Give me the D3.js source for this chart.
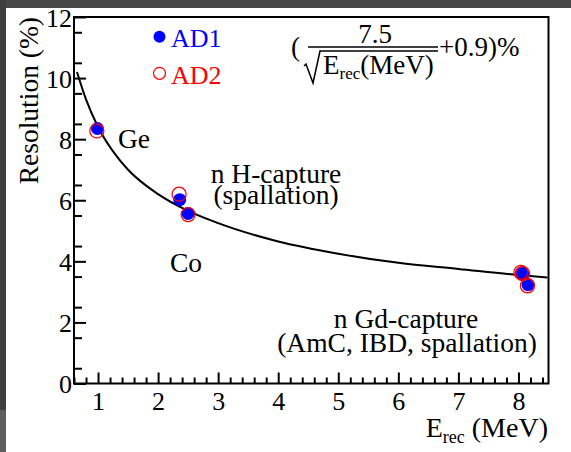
<!DOCTYPE html>
<html>
<head>
<meta charset="utf-8">
<script src="https://cdn.jsdelivr.net/npm/d3@7"></script>
<style>
  body { margin: 0; background: #fff; }
  svg { display: block; }
  text { font-family: "Liberation Serif", "Times New Roman", serif; }
</style>
</head>
<body>
<svg id="chart"></svg>
<script>
// data
var ad1Energy = [0.99, 2.36, 2.50, 8.05, 8.07, 8.16];
var ad1Res    = [8.35, 6.02, 5.57, 3.62, 3.58, 3.24];
var ad2Energy = [0.98, 2.35, 2.50, 8.04, 8.07, 8.15];
var ad2Res    = [8.27, 6.20, 5.53, 3.64, 3.60, 3.20];

// fitted curve, sampled by eye
var fitEnergy = [0.65, 0.8, 1.0, 1.25, 1.5, 2.0, 2.5, 3.0, 4.0, 5.0, 6.0, 7.0, 8.0, 8.48];
var fitRes    = [10.2, 9.3, 8.4, 7.6, 7.0, 6.2, 5.65, 5.25, 4.65, 4.25, 3.95, 3.75, 3.55, 3.47];

var xTicks = [1, 2, 3, 4, 5, 6, 7, 8];
var yTicks = [0, 2, 4, 6, 8, 10, 12];

var labels = [
  {text: "Ge", x: 118, y: 148, anchor: "start"},
  {text: "n H-capture", x: 276, y: 183, anchor: "middle"},
  {text: "(spallation)", x: 276, y: 204, anchor: "middle"},
  {text: "Co", x: 170, y: 272, anchor: "start"},
  {text: "n Gd-capture", x: 406, y: 328, anchor: "middle"},
  {text: "(AmC, IBD, spallation)", x: 407, y: 352, anchor: "middle"}
];

var serif = "'Liberation Serif', 'Times New Roman', serif";
var width = 571, height = 452;
var plotBox = {left: 74, right: 548.5, top: 17, bottom: 383.5};

var svg = d3.select("#chart").attr("width", width).attr("height", height)
  .attr("font-family", serif);

// dark bits of the screenshot edge
svg.append("rect").attr("x", 0).attr("y", 0).attr("width", width).attr("height", 8).attr("fill", "#474747");
svg.append("rect").attr("x", 0).attr("y", 0).attr("width", 6).attr("height", 410).attr("fill", "#3e3e3e");
svg.append("rect").attr("x", 0).attr("y", 410).attr("width", 6).attr("height", 42).attr("fill", "#5e5e5e");

var xScale = d3.scaleLinear().domain([0.6, 8.5]).range([plotBox.left, plotBox.right]);
var yScale = d3.scaleLinear().domain([0, 12]).range([plotBox.bottom, plotBox.top]);

var plot = svg.append("g").classed("plot", true);

// axes (ticks pointing inward)
var xMinor = d3.range(0.6, 8.5, 0.2).filter(function(v){ return Math.abs(v - Math.round(v)) > 0.01; });
var yMinor = d3.range(0.5, 12, 1);

var xMajorAxis = d3.axisBottom(xScale).tickValues(xTicks).tickSize(-11).tickPadding(8).tickFormat(d3.format("d"));
var xMinorAxis = d3.axisBottom(xScale).tickValues(xMinor).tickSize(-6).tickFormat("");
var yMajorAxis = d3.axisLeft(yScale).tickValues(yTicks).tickSize(-12).tickPadding(2).tickFormat(d3.format("d"));
var yMinorAxis = d3.axisLeft(yScale).tickValues(yMinor).tickSize(-8).tickFormat("");

function styleAxis(g) {
  g.attr("font-family", serif);
  g.select(".domain").remove();
  g.selectAll("line").attr("stroke", "#000").attr("stroke-width", 2);
  g.selectAll("text").attr("fill", "#000").attr("font-size", 26).style("font-family", serif);
}

plot.append("g").attr("transform", "translate(0," + plotBox.bottom + ")").call(xMinorAxis).call(styleAxis);
plot.append("g").attr("transform", "translate(0," + plotBox.bottom + ")").call(xMajorAxis).call(styleAxis);
plot.append("g").attr("transform", "translate(" + plotBox.left + ",0)").call(yMinorAxis).call(styleAxis);
var yg = plot.append("g").attr("transform", "translate(" + plotBox.left + ",0)").call(yMajorAxis).call(styleAxis);
yg.selectAll("text").attr("dy", "0.36em");

// frame
plot.append("rect")
  .attr("x", plotBox.left).attr("y", plotBox.top)
  .attr("width", plotBox.right - plotBox.left).attr("height", plotBox.bottom - plotBox.top)
  .attr("fill", "none").attr("stroke", "#000").attr("stroke-width", 2);

// fit curve
var fitData = fitEnergy.map(function(e, i){ return [e, fitRes[i]]; });
var line = d3.line()
  .x(function(d){ return xScale(d[0]); })
  .y(function(d){ return yScale(d[1]); })
  .curve(d3.curveMonotoneX);
plot.append("path").datum(fitData)
  .attr("d", line).attr("fill", "none").attr("stroke", "#000").attr("stroke-width", 2);

// points
var ad1 = ad1Energy.map(function(e, i){ return {e: e, r: ad1Res[i]}; });
var ad2 = ad2Energy.map(function(e, i){ return {e: e, r: ad2Res[i]}; });

plot.append("g").selectAll("circle").data(ad1).enter().append("circle")
  .attr("cx", function(d){ return xScale(d.e); })
  .attr("cy", function(d){ return yScale(d.r); })
  .attr("r", 6.5).attr("fill", "#0000ff");

plot.append("g").selectAll("circle").data(ad2).enter().append("circle")
  .attr("cx", function(d){ return xScale(d.e); })
  .attr("cy", function(d){ return yScale(d.r); })
  .attr("r", 7).attr("fill", "none").attr("stroke", "#ff0000").attr("stroke-width", 1.3);

// annotations
plot.append("g").selectAll("text").data(labels).enter().append("text")
  .attr("x", function(d){ return d.x; })
  .attr("y", function(d){ return d.y; })
  .attr("text-anchor", function(d){ return d.anchor; })
  .attr("font-size", 27.5).attr("fill", "#000")
  .text(function(d){ return d.text; });

// legend
var legend = plot.append("g").classed("legend", true);
legend.append("circle").attr("cx", 159.5).attr("cy", 36.7).attr("r", 6).attr("fill", "#0000ff");
legend.append("text").attr("x", 171).attr("y", 47).attr("font-size", 26).attr("fill", "#0000ff").text("AD1");
legend.append("circle").attr("cx", 159.5).attr("cy", 73.3).attr("r", 6).attr("fill", "none")
  .attr("stroke", "#ff0000").attr("stroke-width", 1.2);
legend.append("text").attr("x", 171).attr("y", 84).attr("font-size", 26).attr("fill", "#ff0000").text("AD2");

// formula
var f = plot.append("g").classed("formula", true).attr("fill", "#000");
f.append("text").attr("x", 291).attr("y", 56).attr("font-size", 27).text("(");
f.append("text").attr("x", 375).attr("y", 42.5).attr("text-anchor", "middle").attr("font-size", 27).text("7.5");
f.append("line").attr("x1", 308).attr("x2", 438).attr("y1", 47).attr("y2", 47).attr("stroke", "#000").attr("stroke-width", 1.5);
f.append("path").attr("d", "M304,66 L306,64 L313,83 L320,51 L438,51")
  .attr("fill", "none").attr("stroke", "#000").attr("stroke-width", 1.5);
var den = f.append("text").attr("x", 323).attr("y", 74).attr("font-size", 27);
den.append("tspan").text("E");
den.append("tspan").attr("font-size", 17).attr("dy", 5).text("rec");
den.append("tspan").attr("dy", -5).text("(MeV)");
f.append("text").attr("x", 439).attr("y", 55.5).attr("font-size", 27).text("+0.9)%");

// axis titles
svg.append("text")
  .attr("transform", "translate(38," + plotBox.top + ") rotate(-90)")
  .attr("text-anchor", "end").attr("font-size", 27.5).attr("fill", "#000")
  .text("Resolution (%)");

var xt = svg.append("text").attr("x", 548).attr("y", 437).attr("text-anchor", "end")
  .attr("font-size", 28).attr("fill", "#000");
xt.append("tspan").text("E");
xt.append("tspan").attr("font-size", 18).attr("dy", 6).text("rec");
xt.append("tspan").attr("dy", -6).text(" (MeV)");
</script>
</body>
</html>
